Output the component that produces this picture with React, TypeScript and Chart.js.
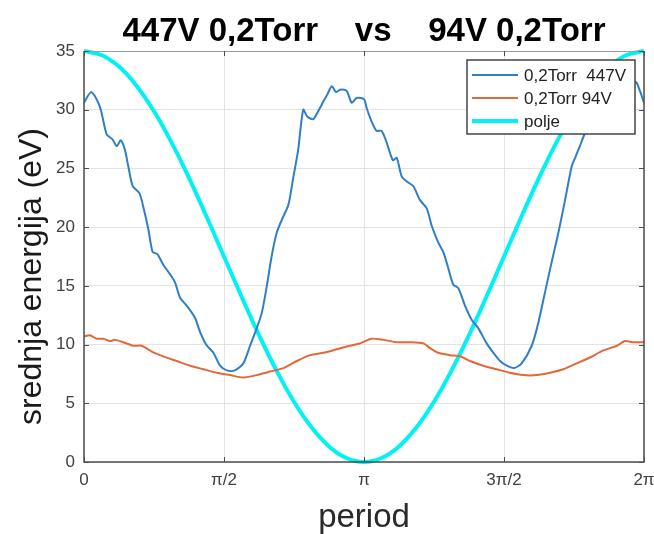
import React, { useEffect, useRef } from "react";
import { Chart, registerables } from "chart.js";

Chart.register(...registerables);

const TITLE = "447V 0,2Torr    vs    94V 0,2Torr";
const Y_TITLE = "srednja energija (eV)";
const X_TITLE = "period";

const xTickValues = [0, 0.5, 1, 1.5, 2];
const xTickLabels = ["0", "π/2", "π", "3π/2", "2π"];
const yTickValues = [0, 5, 10, 15, 20, 25, 30, 35];

const seriesNames = ["0,2Torr  447V", "0,2Torr 94V", "polje"];

// x in units of π (0 .. 2π)
const x447 = [0, 0.025, 0.045, 0.06, 0.081, 0.101, 0.117, 0.131, 0.146, 0.158,
  0.174, 0.198, 0.214, 0.23, 0.245, 0.262, 0.283, 0.307, 0.325, 0.343,
  0.367, 0.396, 0.414, 0.436, 0.462, 0.486, 0.51, 0.539, 0.569, 0.593,
  0.617, 0.635, 0.653, 0.67, 0.688, 0.706, 0.73, 0.748, 0.765, 0.783,
  0.798, 0.819, 0.837, 0.855, 0.869, 0.885, 0.9, 0.914, 0.938, 0.956,
  0.974, 1.0, 1.01, 1.027, 1.045, 1.063, 1.081, 1.103, 1.117, 1.135,
  1.158, 1.176, 1.2, 1.224, 1.242, 1.265, 1.283, 1.301, 1.319, 1.337,
  1.361, 1.385, 1.408, 1.438, 1.462, 1.486, 1.51, 1.536, 1.563, 1.599,
  1.622, 1.646, 1.67, 1.694, 1.718, 1.742, 1.754, 1.771, 1.789, 1.843,
  1.896, 1.932, 1.961, 1.974, 2.0];
const y447 = [30.6, 31.5, 30.9, 30.0, 27.9, 27.5, 26.9, 27.4, 26.6, 25.2,
  23.5, 22.9, 21.5, 19.8, 17.9, 17.7, 16.8, 16.0, 15.3, 14.0,
  13.3, 12.3, 11.1, 10.0, 9.3, 8.2, 7.8, 7.8, 8.4, 9.9,
  11.4, 12.7, 15.0, 17.5, 19.5, 20.6, 21.9, 24.3, 26.6, 30.0,
  29.4, 29.2, 29.9, 30.7, 31.3, 32.0, 31.5, 31.7, 31.6, 30.6,
  31.0, 30.9, 30.1, 29.0, 28.2, 28.2, 27.2, 25.7, 25.9, 24.3,
  23.8, 23.5, 22.3, 21.6, 20.1, 18.7, 17.9, 16.5, 15.1, 14.8,
  13.3, 12.1, 11.4, 10.1, 9.3, 8.6, 8.2, 8.0, 8.4, 9.9,
  11.8, 14.4, 17.0, 19.5, 22.3, 25.2, 25.9, 26.9, 28.0, 30.5,
  31.5, 32.0, 32.4, 32.3, 30.6];

const x94 = [0, 0.021, 0.045, 0.069, 0.093, 0.111, 0.14, 0.176, 0.206, 0.242,
  0.283, 0.331, 0.379, 0.426, 0.474, 0.521, 0.569, 0.617, 0.664, 0.712,
  0.76, 0.807, 0.855, 0.903, 0.95, 0.986, 1.027, 1.069, 1.117, 1.164,
  1.212, 1.236, 1.265, 1.307, 1.343, 1.379, 1.426, 1.474, 1.521, 1.569,
  1.617, 1.664, 1.712, 1.76, 1.807, 1.855, 1.903, 1.932, 1.962, 2.0];
const y94 = [10.7, 10.8, 10.5, 10.5, 10.3, 10.4, 10.2, 9.9, 9.9, 9.4,
  9.0, 8.6, 8.2, 7.9, 7.6, 7.4, 7.2, 7.4, 7.7, 8.0,
  8.6, 9.1, 9.3, 9.6, 9.9, 10.1, 10.5, 10.4, 10.2, 10.2,
  10.1, 9.7, 9.3, 9.1, 9.0, 8.6, 8.2, 7.9, 7.6, 7.4,
  7.4, 7.6, 7.9, 8.4, 8.9, 9.5, 9.9, 10.3, 10.2, 10.2];

const xPolje = [0, 0.0625, 0.125, 0.1875, 0.25, 0.3125, 0.375, 0.4375, 0.5,
  0.5625, 0.625, 0.6875, 0.75, 0.8125, 0.875, 0.9375, 1.0,
  1.0625, 1.125, 1.1875, 1.25, 1.3125, 1.375, 1.4375, 1.5,
  1.5625, 1.625, 1.6875, 1.75, 1.8125, 1.875, 1.9375, 2.0];
const yPolje = [35, 34.66, 33.67, 32.05, 29.87, 27.22, 24.2, 20.91, 17.5,
  14.09, 10.8, 7.78, 5.13, 2.95, 1.33, 0.34, 0,
  0.34, 1.33, 2.95, 5.13, 7.78, 10.8, 14.09, 17.5,
  20.91, 24.2, 27.22, 29.87, 32.05, 33.67, 34.66, 35];

const COLORS = ["#2f7ec6", "#e2683a", "#00f2f2"];
const WIDTHS = [2, 2, 4];
const FONT = "'Liberation Sans', Arial, Helvetica, sans-serif";

const toPoints = (xs: number[], ys: number[]) => xs.map((x, i) => ({ x, y: ys[i] }));

const framePlugin = {
  id: "frameAndLegend",
  afterDatasetsDraw(chart: any) {
    const { ctx, chartArea: a, scales } = chart;
    ctx.save();
    ctx.strokeStyle = "#4d4d4d";
    ctx.lineWidth = 1.5;
    ctx.beginPath();
    ctx.moveTo(a.right, a.top);
    ctx.lineTo(a.right, a.bottom);
    ctx.lineTo(a.left, a.bottom);
    ctx.lineTo(a.left, a.top);
    ctx.stroke();
    ctx.strokeStyle = "#9a9a9a";
    ctx.lineWidth = 1;
    ctx.beginPath();
    ctx.moveTo(a.left, a.top + 0.5);
    ctx.lineTo(a.right, a.top + 0.5);
    ctx.stroke();
    ctx.strokeStyle = "#4d4d4d";
    ctx.lineWidth = 1;
    const tl = 5;
    ctx.beginPath();
    yTickValues.forEach((v) => {
      const py = Math.round(scales.y.getPixelForValue(v)) + 0.5;
      ctx.moveTo(a.left, py);
      ctx.lineTo(a.left + tl, py);
      ctx.moveTo(a.right, py);
      ctx.lineTo(a.right - tl, py);
    });
    xTickValues.forEach((v) => {
      const px = Math.round(scales.x.getPixelForValue(v)) + 0.5;
      ctx.moveTo(px, a.bottom);
      ctx.lineTo(px, a.bottom - tl);
      ctx.moveTo(px, a.top);
      ctx.lineTo(px, a.top + tl);
    });
    ctx.stroke();
    ctx.restore();
  },
  afterDraw(chart: any) {
    const { ctx, chartArea: a } = chart;
    ctx.save();
    ctx.translate(32, (a.top + a.bottom) / 2 + 20);
    ctx.rotate(-Math.PI / 2);
    ctx.fillStyle = "#1a1a1a";
    ctx.font = `32px ${FONT}`;
    ctx.textAlign = "center";
    ctx.textBaseline = "middle";
    ctx.fillText(Y_TITLE, 0, 0);
    ctx.restore();

    ctx.save();
    const w = 168;
    const h = 74;
    const lx = a.right - 9 - w;
    const ly = a.top + 9;
    ctx.fillStyle = "#ffffff";
    ctx.fillRect(lx, ly, w, h);
    ctx.strokeStyle = "#444444";
    ctx.lineWidth = 1.5;
    ctx.strokeRect(lx, ly, w, h);
    ctx.font = `17px ${FONT}`;
    ctx.textAlign = "left";
    ctx.textBaseline = "middle";
    seriesNames.forEach((name, i) => {
      const cy = ly + 15 + i * 23;
      ctx.strokeStyle = COLORS[i];
      ctx.lineWidth = WIDTHS[i];
      ctx.beginPath();
      ctx.moveTo(lx + 5, cy);
      ctx.lineTo(lx + 51, cy);
      ctx.stroke();
      ctx.fillStyle = "#222222";
      ctx.fillText(name, lx + 57, cy + 1);
    });
    ctx.restore();
  },
};

export default function App() {
  const ref = useRef<HTMLCanvasElement | null>(null);

  useEffect(() => {
    document.body.style.margin = "0";
    const canvas = ref.current;
    if (!canvas) return;
    const chart = new Chart(canvas, {
      type: "line",
      data: {
        datasets: [
          {
            label: seriesNames[0],
            data: toPoints(x447, y447),
            borderColor: COLORS[0],
            borderWidth: WIDTHS[0],
            pointRadius: 0,
            tension: 0.25,
          },
          {
            label: seriesNames[1],
            data: toPoints(x94, y94),
            borderColor: COLORS[1],
            borderWidth: WIDTHS[1],
            pointRadius: 0,
            tension: 0.25,
          },
          {
            label: seriesNames[2],
            data: toPoints(xPolje, yPolje),
            borderColor: COLORS[2],
            borderWidth: WIDTHS[2],
            pointRadius: 0,
            tension: 0.4,
            clip: { left: 0, right: 0, top: 2, bottom: 3 } as any,
          },
        ],
      },
      options: {
        animation: false,
        responsive: false,
        maintainAspectRatio: false,
        layout: { padding: { left: 0, right: 10, top: 0, bottom: 0 } },
        plugins: {
          legend: { display: false },
          tooltip: { enabled: false },
          title: {
            display: true,
            text: TITLE,
            fullSize: false,
            color: "#000000",
            font: { family: FONT, size: 33, weight: "bold", lineHeight: 1.0 },
            padding: { top: 15, bottom: 3 },
          },
        },
        scales: {
          x: {
            type: "linear",
            min: 0,
            max: 2,
            afterBuildTicks: (scale: any) => {
              scale.ticks = xTickValues.map((v) => ({ value: v }));
            },
            afterFit: (scale: any) => {
              scale.height = 72;
              scale.paddingLeft = 0;
              scale.paddingRight = 0;
            },
            ticks: {
              color: "#404040",
              font: { family: FONT, size: 17 },
              padding: 8,
              maxRotation: 0,
              autoSkip: false,
              callback: (v: any) => {
                const i = xTickValues.indexOf(Number(v));
                return i >= 0 ? xTickLabels[i] : "";
              },
            },
            grid: { color: "#e3e3e3", lineWidth: 1, drawTicks: false },
            border: { display: false },
            title: {
              display: true,
              text: X_TITLE,
              color: "#2a2a2a",
              font: { family: FONT, size: 33, lineHeight: 1.0 },
              padding: { top: 0, bottom: 0 },
            },
          },
          y: {
            type: "linear",
            min: 0,
            max: 35,
            afterBuildTicks: (scale: any) => {
              scale.ticks = yTickValues.map((v) => ({ value: v }));
            },
            afterFit: (scale: any) => {
              scale.width = 84;
              scale.paddingTop = 0;
              scale.paddingBottom = 0;
            },
            ticks: {
              color: "#404040",
              font: { family: FONT, size: 17 },
              padding: 9,
              autoSkip: false,
            },
            grid: { color: "#e3e3e3", lineWidth: 1, drawTicks: false },
            border: { display: false },
          },
        },
      },
      plugins: [framePlugin],
    });
    return () => chart.destroy();
  }, []);

  return (
    <div style={{ width: 654, height: 534, background: "#ffffff" }}>
      <canvas ref={ref} width={654} height={534} />
    </div>
  );
}
